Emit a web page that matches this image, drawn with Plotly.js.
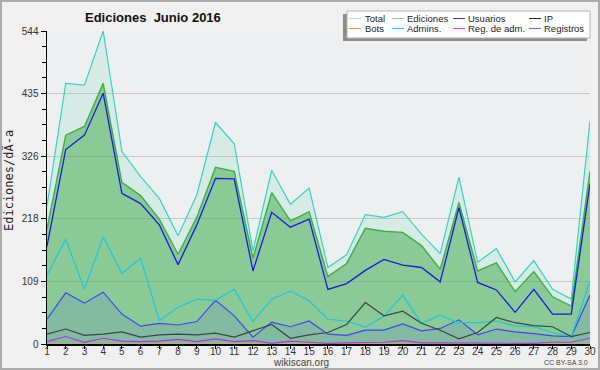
<!DOCTYPE html>
<html>
<head>
<meta charset="utf-8">
<script src="https://cdn.plot.ly/plotly-3.0.1.min.js"></script>
<style>
  html, body { margin: 0; padding: 0; background: #f0f0f0; }
  #wrap { position: relative; width: 600px; height: 370px; }
  #chart { width: 600px; height: 370px; }
  #frame { position: absolute; left: 0; top: 0; width: 596px; height: 366px; border: 2px solid #ababab; pointer-events: none; }
</style>
</head>
<body>
<div id="wrap"><div id="chart"></div><div id="frame"></div></div>
<script>
// ---- data ----
const days = [1,2,3,4,5,6,7,8,9,10,11,12,13,14,15,16,17,18,19,20,21,22,23,24,25,26,27,28,29,30];
const total      = [240,453,450,544,335,291,253,188,259,385,348,162,302,243,271,133,155,225,220,230,191,157,290,142,166,108,145,95,78,388];
const ediciones  = [200,363,378,453,281,258,217,156,220,307,300,149,263,214,230,117,140,201,196,194,171,130,246,127,141,91,126,82,66,300];
const usuarios   = [170,338,363,436,262,244,207,138,207,288,287,127,229,203,217,95,105,128,147,137,133,108,237,107,94,55,95,52,52,279];
const ip         = [17,26,15,17,21,12,16,17,16,19,12,23,34,10,16,20,34,72,49,57,36,24,9,20,46,37,32,30,13,20];
const bots       = [0,0,0,0,0,0,0,0,0,0,0,0,0,0,0,0,0,0,0,0,0,0,0,0,0,0,0,0,0,0];
const admins     = [120,182,95,186,123,149,41,64,78,76,95,39,78,92,75,43,40,29,48,85,36,50,37,37,40,31,30,20,13,109];
const regAdm     = [4,13,3,10,5,4,5,8,4,9,4,6,1,5,3,1,2,2,3,6,2,2,2,2,1,1,1,3,3,10];
const registros  = [43,89,71,90,52,31,36,33,39,76,49,12,38,30,40,17,15,24,24,35,23,27,42,16,26,21,18,14,13,85];
const yTicks     = [0,109,218,326,435,544];
const legendRow1 = ["Total","Ediciones","Usuarios","IP"];
const legendRow2 = ["Bots","Admins.","Reg. de adm.","Registros"];

// ---- styles ----
const C = {
  total: '#36d3c3', totalFill: 'rgba(100,220,175,0.17)',
  edic: '#3fae44', edicFill: 'rgba(60,170,70,0.5)',
  usu: '#1a1ae0', ip: '#3c4448', bots: '#ff9933',
  adm: '#1fc6de', regadm: '#b432e6', reg: '#4444f4', regFill: 'rgba(80,80,255,0.12)'
};
const legendColors1 = ['#a6e6e0', '#86d486', '#3434e4', '#222222'];
const legendColors2 = ['#ff9a33', '#30c8e2', '#d044e8', '#6a6aff'];
const FONT = 'Liberation Sans, Arial, sans-serif';

function tr(y, color, width, fill, fillcolor) {
  const t = {x: days, y: y, type: 'scatter', mode: 'lines',
    line: {color: color, width: width}, hoverinfo: 'skip', showlegend: false};
  if (fill) { t.fill = 'tozeroy'; t.fillcolor = fillcolor; }
  return t;
}
const data = [
  tr(total, C.total, 1.2, true, C.totalFill),
  tr(ediciones, C.edic, 1.4, true, C.edicFill),
  tr(usuarios, C.usu, 1.3),
  tr(registros, C.reg, 1.2, true, C.regFill),
  tr(admins, C.adm, 1.2),
  tr(ip, C.ip, 1.2),
  tr(bots, C.bots, 1.0),
  tr(regAdm, C.regadm, 1.2)
];

// pixel -> paper helpers (plot area: x 47..590, y 31..344)
const L = 47, R = 590, T = 31, B = 344;
const px = x => (x - L) / (R - L);
const py = y => (B - y) / (B - T);

const shapes = [
  {type: 'rect', xref: 'paper', yref: 'paper', x0: px(343), x1: px(587), y0: py(14), y1: py(41),
   fillcolor: '#8c8c8c', line: {width: 0}, layer: 'above'},
  {type: 'rect', xref: 'paper', yref: 'paper', x0: px(347), x1: px(590), y0: py(11), y1: py(38),
   fillcolor: '#ffffff', line: {color: '#b4b4b4', width: 1}, layer: 'above'}
];
const annotations = [];
const swX = [349, 392, 453, 529];
const txX = [364, 406, 467, 543];
const rows = [[legendRow1, legendColors1, 18.5], [legendRow2, legendColors2, 28.5]];
rows.forEach(([names, cols, yy]) => {
  names.forEach((n, i) => {
    shapes.push({type: 'line', xref: 'paper', yref: 'paper', x0: px(swX[i]), x1: px(swX[i] + 12),
      y0: py(yy), y1: py(yy), line: {color: cols[i], width: 1}, layer: 'above'});
    annotations.push({xref: 'paper', yref: 'paper', x: px(txX[i]), y: py(yy), text: n, showarrow: false,
      xanchor: 'left', yanchor: 'middle', borderpad: 0,
      font: {family: FONT, size: 9.5, color: '#222'}});
  });
});
annotations.push({xref: 'paper', yref: 'paper', x: px(8), y: py(181), text: 'Ediciones/dÃ-a', textangle: -90,
  showarrow: false, xanchor: 'center', yanchor: 'middle',
  font: {family: 'DejaVu Sans Mono, monospace', size: 12, color: '#222'}});
annotations.push({xref: 'paper', yref: 'paper', x: px(301), y: py(362), text: 'wikiscan.org',
  showarrow: false, xanchor: 'center', yanchor: 'middle',
  font: {family: FONT, size: 10, color: '#444'}});
annotations.push({xref: 'paper', yref: 'paper', x: px(590), y: py(362), text: 'CC BY-SA 3.0',
  showarrow: false, xanchor: 'right', yanchor: 'middle',
  font: {family: FONT, size: 7, color: '#444'}});

const layout = {
  width: 600, height: 370,
  paper_bgcolor: '#f0f0f0', plot_bgcolor: '#eeeff1',
  margin: {l: L, r: 600 - R, t: T, b: 370 - B, pad: 0},
  title: {text: '<b>Ediciones  Junio 2016</b>', xref: 'container', yref: 'container',
    x: 85 / 600, xanchor: 'left', y: 1 - 17 / 370, yanchor: 'middle',
    font: {family: FONT, size: 13, color: '#111'}},
  xaxis: {range: [1, 30], tickvals: days, ticktext: days.map(String), showgrid: false, zeroline: false,
    showline: true, linecolor: '#000', linewidth: 1.5, ticks: 'outside', ticklen: 3, tickcolor: '#000',
    ticklabelstandoff: -6,
    tickfont: {family: FONT, size: 10, color: '#333'}, fixedrange: true},
  yaxis: {range: [0, 544], tickvals: yTicks, ticktext: yTicks.map(String), showgrid: true, gridcolor: '#c8c8c8',
    gridwidth: 1, zeroline: false, showline: true, linecolor: '#000', linewidth: 1.5,
    ticks: 'outside', ticklen: 5, tickcolor: '#000',
    minor: {dtick: 27.2, tick0: 0, ticks: 'outside', ticklen: 4, tickcolor: '#000', showgrid: false},
    tickfont: {family: FONT, size: 10, color: '#333'}, fixedrange: true},
  showlegend: false,
  shapes: shapes,
  annotations: annotations
};
Plotly.newPlot('chart', data, layout, {displayModeBar: false, staticPlot: true});
</script>
</body>
</html>
